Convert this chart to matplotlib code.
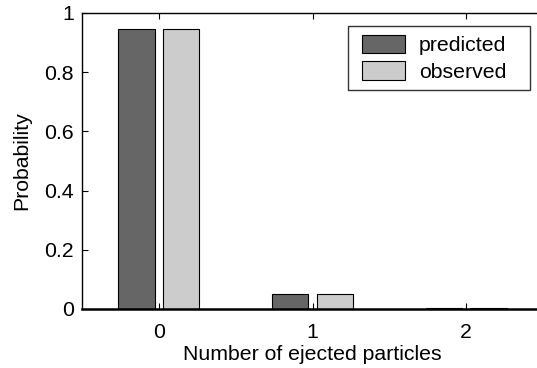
import matplotlib

matplotlib.use("Agg")

import matplotlib.pyplot as plt
import numpy as np
from matplotlib.container import BarContainer
from matplotlib.legend_handler import HandlerPatch, update_from_first_child
from matplotlib.patches import Rectangle

categories = [0, 1, 2]
predicted = [0.947, 0.051, 0.003]
observed = [0.947, 0.051, 0.003]
series_labels = ["predicted", "observed"]
y_ticks = [0, 0.2, 0.4, 0.6, 0.8, 1]
y_tick_labels = ["0", "0.2", "0.4", "0.6", "0.8", "1"]

plt.rcParams["font.family"] = ["Liberation Sans", "DejaVu Sans"]
FS = 15.3
SHIFT = 3.6  # points, pushes legend swatches right of the frame edge


def shifted_patch(legend, orig_handle, xdescent, ydescent, width, height, fontsize):
    return Rectangle((-xdescent + SHIFT, -ydescent), width - SHIFT, height)


fig = plt.figure(figsize=(5.37, 3.68), dpi=100)
# right spine sits just outside the image, as in the reference
ax = fig.add_axes([82 / 537, 59 / 368, 461 / 537, 296 / 368])

x = np.array(categories, dtype=float)
w = 0.235
ax.bar(x - 0.145, predicted, w, color="#666666", edgecolor="black",
       linewidth=0.8, label=series_labels[0], zorder=2)
ax.bar(x + 0.145, observed, w, color="#cccccc", edgecolor="black",
       linewidth=0.8, label=series_labels[1], zorder=2)

ax.set_xlim(-0.5, 2.5)
ax.set_ylim(0, 1)
ax.set_xticks(categories)
ax.set_xticklabels([str(c) for c in categories])
ax.set_yticks(y_ticks)
ax.set_yticklabels(y_tick_labels)
ax.tick_params(direction="in", length=4, width=0.8, labelsize=FS,
               top=True, right=True)
ax.tick_params(axis="x", pad=10)
ax.tick_params(axis="y", pad=6)
for s in ax.spines.values():
    s.set_linewidth(1.0)
ax.spines["bottom"].set_linewidth(1.8)

ax.set_xlabel("Number of ejected particles", fontsize=FS, labelpad=2)
ax.set_ylabel("Probability", fontsize=FS, labelpad=9)

# legend box fixed in figure pixels (MATLAB-style, extra space on the right)
bar_handler = HandlerPatch(patch_func=shifted_patch,
                           update_func=update_from_first_child)
leg = ax.legend(loc="upper right",
                bbox_to_anchor=(348 / 537, 1 - 90 / 368, 182 / 537, 64 / 368),
                bbox_transform=fig.transFigure, mode="expand",
                fontsize=FS, frameon=True, fancybox=False, edgecolor="black",
                handlelength=2.26, handleheight=0.95, borderpad=0.4,
                labelspacing=0.3, handletextpad=0.68, borderaxespad=0,
                handler_map={BarContainer: bar_handler})
leg.get_frame().set_linewidth(1.0)

fig.savefig("out.png", dpi=100)
plt.close(fig)
